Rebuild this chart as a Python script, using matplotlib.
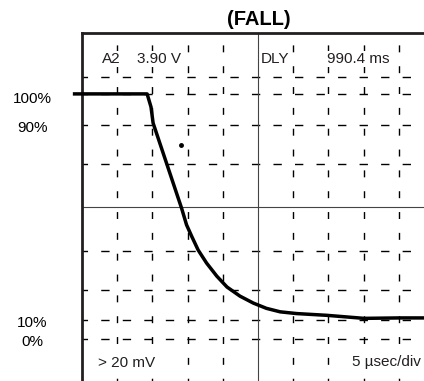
import matplotlib
matplotlib.use('Agg')
import matplotlib.pyplot as plt

plt.rcParams['font.family'] = ['Liberation Sans', 'DejaVu Sans']

# screen is measured in divisions: 10 across, 8 high
trace_x = [-0.26, 1.85, 1.96, 2.02, 2.83, 2.97, 3.12, 3.30, 3.54, 3.83, 4.12,
           4.49, 4.87, 5.24, 5.63, 6.10, 6.95, 8.01, 9.01, 10.0]
trace_y = [6.60, 6.60, 6.30, 5.93, 3.97, 3.59, 3.32, 3.01, 2.71, 2.41, 2.16,
           1.95, 1.79, 1.67, 1.59, 1.55, 1.51, 1.44, 1.45, 1.45]

grid_x = [1, 2, 3, 4, 6, 7, 8, 9]
grid_y = [6.99, 6.60, 5.89, 4.99, 2.99, 2.09, 1.40, 0.97]
center_x = 5
center_y = 4.0

level_labels = ['100%', '90%', '10%', '0%']
level_pos = [6.48, 5.82, 1.33, 0.90]

dot = (2.81, 5.43)

fig = plt.figure(figsize=(4.24, 3.81), dpi=100)
ax = fig.add_axes([82 / 424, 0, 352 / 424, 348 / 381])
ax.set_xlim(0, 10)
ax.set_ylim(0, 8)
ax.set_xticks([])
ax.set_yticks([])

for s in ['right', 'bottom']:
    ax.spines[s].set_visible(False)
for s in ['left', 'top']:
    ax.spines[s].set_linewidth(2.0)
    ax.spines[s].set_color('#231f20')

for gx in grid_x:
    ax.axvline(gx, color='black', lw=1.0, linestyle=(3, (5, 10)))
for gy in grid_y:
    ax.axhline(gy, color='black', lw=1.0, linestyle=(2, (6, 9.5)))
ax.axvline(center_x, color='#444444', lw=0.8)
ax.axhline(center_y, color='#444444', lw=0.8)

ax.plot(trace_x, trace_y, color='black', lw=2.5, clip_on=False,
        solid_joinstyle='round', solid_capstyle='butt', zorder=5)
ax.plot(*dot, 'o', color='black', ms=2.5)

for lab, y in zip(level_labels, level_pos):
    ax.text(-1.42, y, lab, ha='center', va='center', fontsize=11, clip_on=False)

ax.text(5.03, 8.30, '(FALL)', ha='center', va='center', fontsize=14.5,
        fontweight='bold', clip_on=False)

box = dict(facecolor='white', edgecolor='none', pad=1)
ax.text(0.57, 7.40, 'A2', ha='left', va='center', fontsize=11, color='#231f20', bbox=box)
ax.text(1.56, 7.40, '3.90 V', ha='left', va='center', fontsize=11, color='#231f20', bbox=box)
ax.text(5.09, 7.40, 'DLY', ha='left', va='center', fontsize=11, color='#231f20', bbox=box)
ax.text(6.96, 7.40, '990.4 ms', ha='left', va='center', fontsize=11, color='#231f20', bbox=box)
ax.text(0.45, 0.41, '> 20 mV', ha='left', va='center', fontsize=11, color='#231f20', bbox=box)
ax.text(7.67, 0.48, '5 µsec/div', ha='left', va='center_baseline', fontsize=11,
        color='#231f20', bbox=box)

fig.savefig('out.png', dpi=100)
